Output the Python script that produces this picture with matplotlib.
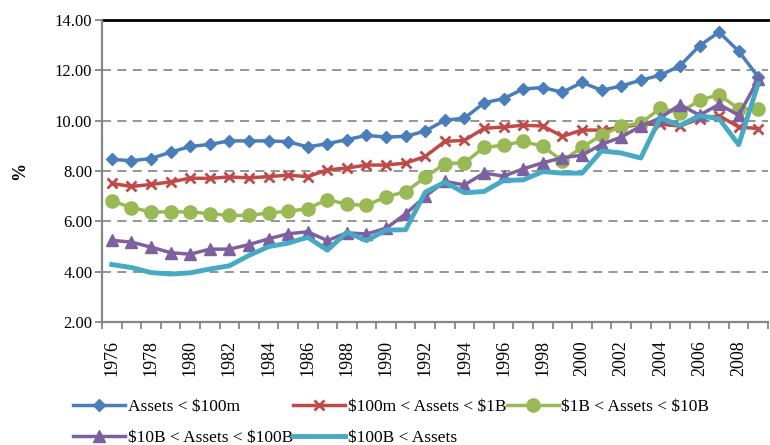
import matplotlib
matplotlib.use("Agg")
import matplotlib.pyplot as plt
import numpy as np

years = list(range(1976, 2010))
s_small = [8.47, 8.41, 8.50, 8.75, 8.98, 9.06, 9.20, 9.20, 9.20, 9.17, 8.96,
           9.09, 9.25, 9.42, 9.35, 9.38, 9.59, 10.02, 10.10, 10.71, 10.88, 11.26,
           11.32, 11.13, 11.52, 11.21, 11.38, 11.61, 11.81, 12.18, 12.98, 13.52,
           12.76, 11.74]
s_100m_1b = [7.51, 7.39, 7.47, 7.57, 7.72, 7.71, 7.77, 7.73, 7.78, 7.84, 7.78,
             8.05, 8.12, 8.24, 8.24, 8.32, 8.58, 9.18, 9.22, 9.70, 9.75, 9.82,
             9.79, 9.38, 9.63, 9.63, 9.74, 9.86, 9.86, 9.79, 10.08, 10.20,
             9.75, 9.69]
s_1b_10b = [6.82, 6.55, 6.38, 6.38, 6.38, 6.31, 6.24, 6.24, 6.34, 6.40, 6.51,
            6.87, 6.68, 6.64, 6.98, 7.18, 7.75, 8.30, 8.33, 8.94, 9.03, 9.18,
            8.98, 8.41, 8.94, 9.43, 9.78, 9.91, 10.49, 10.32, 10.81, 11.04,
            10.47, 10.48]
s_10b_100b = [5.25, 5.18, 4.98, 4.76, 4.70, 4.90, 4.90, 5.08, 5.31, 5.51, 5.59,
              5.24, 5.55, 5.50, 5.73, 6.30, 7.00, 7.59, 7.45, 7.92, 7.80, 8.09,
              8.33, 8.53, 8.63, 9.06, 9.35, 9.78, 10.11, 10.64, 10.22, 10.65,
              10.22, 11.64]
s_100b = [4.29, 4.17, 3.97, 3.91, 3.96, 4.11, 4.24, 4.65, 5.00, 5.14, 5.37,
          4.86, 5.57, 5.24, 5.66, 5.67, 7.16, 7.56, 7.14, 7.19, 7.63, 7.65,
          7.98, 7.92, 7.92, 8.80, 8.72, 8.52, 10.12, 9.81, 10.20, 10.08,
          9.05, 11.48]

labels = ["Assets < $100m", "$100m < Assets < $1B", "$1B < Assets < $10B",
          "$10B < Assets < $100B", "$100B < Assets"]
yticks = [2, 4, 6, 8, 10, 12, 14]

plt.rcParams['font.family'] = ['Liberation Serif', 'DejaVu Serif']
plt.rcParams['text.parse_math'] = False

fig = plt.figure(figsize=(7.7, 4.45), dpi=100)
ax = fig.add_axes([0.1325, 0.276, 0.865, 0.679])

x = np.arange(len(years))
h = []
h.append(ax.plot(x, s_small, color='#4A7EBB', lw=2.5, marker='D', ms=6.5,
                 label=labels[0])[0])
h.append(ax.plot(x, s_100m_1b, color='#BE4B48', lw=2.5, marker='x', ms=7,
                 mew=2, label=labels[1])[0])
h.append(ax.plot(x, s_1b_10b, color='#98B954', lw=2.5, marker='o', ms=9.5,
                 label=labels[2])[0])
h.append(ax.plot(x, s_10b_100b, color='#7D60A0', lw=2.5, marker='^', ms=9,
                 label=labels[3])[0])
h.append(ax.plot(x, s_100b, color='#46AAC5', lw=3.5, label=labels[4])[0])

ax.set_xlim(-0.5, len(years) - 0.5)
ax.set_ylim(2, 14)
ax.set_yticks(yticks)
ax.set_yticklabels([f"{v:.2f}" for v in yticks], fontsize=12)
for v in yticks[1:-1]:
    ax.axhline(v, color='#8C8C8C', lw=1.3, ls=(0, (5, 3.5)), zorder=0)
ax.axhline(14, color='black', lw=2, zorder=0, clip_on=False)

major = [i for i, yv in enumerate(years) if yv % 2 == 0]
ax.set_xticks(major)
ax.set_xticklabels([str(years[i]) for i in major], rotation=90, fontsize=13)
ax.set_xticks(np.arange(-0.5, len(years) + 0.5, 1), minor=True)
ax.tick_params(axis='x', which='major', length=0, pad=13)
ax.tick_params(axis='x', which='minor', length=5, color='#868686', width=1.3)
ax.tick_params(axis='y', length=5, color='#868686', width=1.3, pad=2)

for sp in ['top', 'right']:
    ax.spines[sp].set_visible(False)
for sp in ['left', 'bottom']:
    ax.spines[sp].set_color('#868686')
    ax.spines[sp].set_linewidth(1.6)

fig.text(0.026, 0.615, "%", rotation=90, fontsize=13, fontweight='bold',
         ha='center', va='center')

order = [0, 3, 1, 4, 2]
fig.legend([h[i] for i in order], [labels[i] for i in order], ncol=3,
           loc='lower left', bbox_to_anchor=(0.075, -0.038), frameon=False,
           fontsize=12.5, handlelength=3.0, handletextpad=0.15,
           columnspacing=0.0, labelspacing=0.85)

fig.savefig("out.png", dpi=100)
